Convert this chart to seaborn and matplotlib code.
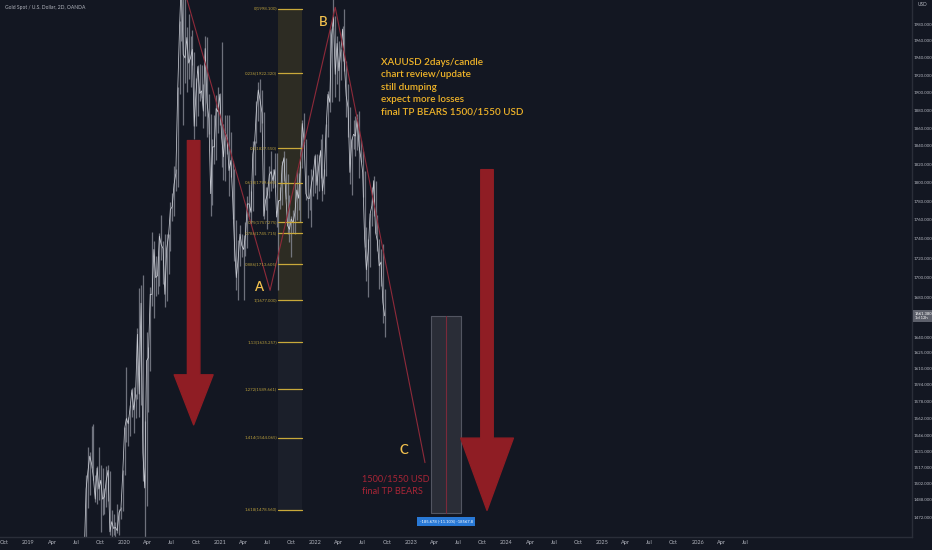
import pandas as pd
import numpy as np
import matplotlib
matplotlib.use('Agg')
import matplotlib.pyplot as plt
import matplotlib.dates as mdates
import matplotlib.ticker as mticker
import matplotlib.transforms as mtrans
import seaborn as sns

# weekly candles XAUUSD, first week ending 2019-07-05 (earlier bars sit below the visible range)
close = [
    # 2019
    1400, 1415, 1426, 1419, 1440, 1497, 1513, 1527, 1520, 1507, 1488, 1516, 1497,
    1505, 1488, 1490, 1505, 1514, 1459, 1468, 1462, 1463, 1460, 1476, 1479, 1511,
    # 2020
    1552, 1562, 1557, 1572, 1589, 1570, 1584, 1643, 1585, 1674, 1530, 1498, 1617,
    1620, 1683, 1683, 1729, 1700, 1702, 1743, 1734, 1730, 1683, 1730, 1743, 1771,
    1774, 1798, 1810, 1902, 1975, 2035, 1944, 1940, 1964, 1934, 1940, 1950, 1862,
    1900, 1930, 1899, 1902, 1879, 1951, 1889, 1871, 1788, 1839, 1839, 1882, 1878,
    # 2021
    1898, 1849, 1828, 1855, 1848, 1813, 1824, 1784, 1734, 1700, 1719, 1745, 1733,
    1729, 1744, 1777, 1777, 1768, 1831, 1844, 1881, 1903, 1891, 1877, 1764, 1781,
    1787, 1808, 1812, 1802, 1814, 1763, 1780, 1781, 1818, 1827, 1787, 1754, 1750,
    1761, 1757, 1768, 1792, 1783, 1818, 1865, 1846, 1788, 1783, 1783, 1799, 1808, 1829,
    # 2022
    1797, 1818, 1835, 1791, 1808, 1859, 1898, 1889, 1966, 1988, 1921, 1957,
    1925, 1947, 1974, 1932, 1896, 1883, 1811, 1846, 1853, 1851, 1871, 1840, 1827,
    1811, 1742, 1708, 1727, 1766, 1775, 1802, 1747, 1738, 1712, 1716, 1675, 1661.38,
]
high = [
    1437, 1421, 1453, 1433, 1449, 1510, 1535, 1531, 1555, 1557, 1510, 1518, 1535,
    1519, 1516, 1498, 1518, 1519, 1513, 1478, 1475, 1468, 1484, 1479, 1481, 1514,
    1554, 1611, 1563, 1575, 1591, 1592, 1585, 1649, 1689, 1692, 1703, 1560, 1645,
    1631, 1690, 1747, 1738, 1722, 1722, 1746, 1765, 1738, 1745, 1745, 1745, 1779,
    1789, 1818, 1815, 1906, 1984, 2075, 2039, 2015, 1976, 1992, 1966, 1973, 1947,
    1917, 1932, 1933, 1932, 1910, 1966, 1965, 1898, 1876, 1848, 1875, 1897, 1906,
    1900, 1959, 1865, 1875, 1875, 1875, 1855, 1824, 1815, 1760, 1739, 1755, 1745,
    1744, 1758, 1785, 1798, 1791, 1845, 1846, 1890, 1912, 1916, 1903, 1878, 1795,
    1795, 1818, 1834, 1815, 1832, 1832, 1781, 1795, 1823, 1834, 1827, 1809, 1787,
    1764, 1771, 1800, 1814, 1810, 1818, 1869, 1877, 1848, 1808, 1793, 1815, 1814, 1831,
    1831, 1830, 1848, 1853, 1815, 1865, 1902, 1974, 1975, 2070, 1990, 1966,
    1960, 1950, 1978, 1998, 1936, 1910, 1884, 1849, 1869, 1874, 1876, 1879, 1847,
    1835, 1812, 1752, 1740, 1767, 1795, 1807, 1802, 1765, 1740, 1729, 1735, 1688,
]
low = [
    1381, 1382, 1401, 1412, 1400, 1437, 1480, 1492, 1516, 1505, 1485, 1484, 1487,
    1459, 1474, 1475, 1481, 1486, 1456, 1445, 1456, 1452, 1458, 1456, 1470, 1477,
    1510, 1540, 1536, 1546, 1563, 1548, 1562, 1580, 1563, 1575, 1504, 1451, 1482,
    1568, 1607, 1671, 1659, 1681, 1683, 1691, 1718, 1693, 1670, 1676, 1704, 1727,
    1759, 1764, 1791, 1795, 1898, 1960, 1863, 1911, 1901, 1916, 1906, 1932, 1848,
    1862, 1873, 1890, 1894, 1860, 1873, 1850, 1853, 1764, 1776, 1820, 1825, 1854,
    1863, 1817, 1803, 1802, 1831, 1785, 1806, 1761, 1717, 1687, 1677, 1712, 1721,
    1677, 1722, 1731, 1763, 1756, 1769, 1808, 1843, 1868, 1855, 1866, 1761, 1770,
    1750, 1783, 1791, 1794, 1795, 1753, 1687, 1772, 1776, 1802, 1782, 1745, 1737,
    1721, 1746, 1745, 1760, 1770, 1758, 1816, 1843, 1781, 1762, 1771, 1753, 1786, 1789,
    1782, 1791, 1805, 1780, 1788, 1807, 1850, 1878, 1889, 1978, 1895, 1910,
    1890, 1915, 1937, 1925, 1872, 1850, 1798, 1787, 1837, 1829, 1836, 1805, 1822,
    1784, 1732, 1697, 1680, 1711, 1754, 1764, 1745, 1727, 1688, 1691, 1654, 1640,
]

y_ticks = [1980, 1960, 1940, 1920, 1900, 1880, 1860, 1840, 1820, 1800, 1780, 1760,
           1740, 1720, 1700, 1680, 1640, 1625, 1610, 1594, 1578, 1562, 1546, 1531,
           1517, 1502, 1488, 1472]

fib_levels = [0, 0.236, 0.5, 0.618, 0.75, 0.786, 0.886, 1, 1.13, 1.272, 1.414, 1.618]
fib_top = 1998.1
fib_bottom = 1677.0

wave_dates = ['2020-08-10', '2021-07-12', '2022-03-18', '2023-02-24']
wave_prices = [2030, 1687, 2000, 1521]

last_price = 1661.38
target_price = 1475.70

BG = '#131722'
TXT = '#b2b5be'
GOLD = '#f2c14e'
ARROW = '#8f1d24'
NARROW = ['DejaVu Sans Condensed', 'Liberation Sans Narrow', 'Lato', 'DejaVu Sans']

df = pd.DataFrame({'date': pd.date_range('2019-07-05', periods=len(close), freq='W-FRI'),
                   'close': close, 'high': high, 'low': low})

sns.set_theme(style='dark', rc={'axes.facecolor': BG, 'figure.facecolor': BG,
                                'savefig.facecolor': BG})
plt.rcParams['font.family'] = ['DejaVu Sans']

fig = plt.figure(figsize=(9.32, 5.5), dpi=100)
ax = fig.add_axes([0, 13 / 550, 912 / 932, 537 / 550])

# candles as high-low bars + close line
ax.vlines(df['date'], df['low'], df['high'], color='#868994', lw=0.9, alpha=0.8)
sns.lineplot(data=df, x='date', y='close', ax=ax, color='#c9ccd4', lw=0.55)

# fib extension
f0 = pd.Timestamp('2021-08-13')
f1 = pd.Timestamp('2021-11-12')
fib_prices = [fib_top - lv * (fib_top - fib_bottom) for lv in fib_levels]
for i in range(len(fib_levels) - 1):
    upper = fib_levels[i + 1] <= 1
    ax.fill_between([f0, f1], fib_prices[i], fib_prices[i + 1],
                    color='#b59a2e' if upper else '#6a6d78', alpha=0.16 if upper else 0.1, lw=0)
for lv, p in zip(fib_levels, fib_prices):
    ax.plot([f0, f1], [p, p], color='#c9a93a', lw=0.9)
    ax.annotate('%g(%.3f)' % (lv, p), xy=(f0, p), xytext=(-1, 0), textcoords='offset points',
                ha='right', va='center', fontsize=3.2, color='#b39a3c', family=NARROW)

# wave lines
ax.plot(pd.to_datetime(wave_dates), wave_prices, color='#8e2a3a', lw=0.8)

# wave letters
for lab, d, p in [('A', '2021-05-28', 1690), ('B', '2022-02-01', 1982), ('C', '2022-12-07', 1533)]:
    ax.text(pd.Timestamp(d), p, lab, color=GOLD, fontsize=9.5, ha='center', va='center',
            family=NARROW, fontweight='semibold')

# big arrows
for d, tail, tip, hw, hl in [('2020-09-23', 1846, 1556, 28, 36), ('2023-10-19', 1814, 1478, 38, 52)]:
    ax.annotate('', xy=(pd.Timestamp(d), tip), xytext=(pd.Timestamp(d), tail),
                arrowprops=dict(arrowstyle='simple,head_length=%d,head_width=%d,tail_width=9' % (hl, hw),
                                color=ARROW, shrinkA=0, shrinkB=0, mutation_scale=1))

# projection box
r0 = pd.Timestamp('2023-03-19')
r1 = pd.Timestamp('2023-07-12')
rm = r0 + (r1 - r0) / 2
ax.fill_between([r0, r1], target_price, last_price, color='#2c2f39', alpha=0.95, lw=0.8,
                edgecolor='#555865')
ax.plot([rm, rm], [last_price, target_price], color='#7a2a3a', lw=0.8)
ax.annotate('-185.678 (-11.10%) -18567.8', xy=(rm, target_price), xytext=(0, -6),
            textcoords='offset points', ha='center', va='center', fontsize=3.0, color='white',
            family=NARROW,
            bbox=dict(boxstyle='square,pad=0.6', facecolor='#2979d6', edgecolor='none'))

# texts
ax.text(381 / 912, 1 - 58 / 537,
        'XAUUSD 2days/candle\nchart review/update\nstill dumping\nexpect more losses\nfinal TP BEARS 1500/1550 USD',
        transform=ax.transAxes, color='#f0b429', fontsize=7.1, va='top', ha='left', linespacing=1.48,
        family=NARROW, fontweight='semibold')
ax.text(362 / 912, 1 - 474 / 537, '1500/1550 USD\nfinal TP BEARS', transform=ax.transAxes,
        color='#a82536', fontsize=6.6, va='top', ha='left', linespacing=1.5,
        family=NARROW)
ax.text(5 / 912, 1 - 7 / 537, 'Gold Spot / U.S. Dollar, 2D, OANDA', transform=ax.transAxes,
        color=TXT, fontsize=3.6, va='center', ha='left', family=NARROW)

# axes
ax.set_yscale('log')
ax.set_ylim(1454.5, 2008.8)
ax.set_xlim(pd.Timestamp('2018-09-14'), pd.Timestamp('2028-03-30'))
ax.yaxis.tick_right()
ax.yaxis.set_major_locator(mticker.FixedLocator(y_ticks))
ax.yaxis.set_major_formatter(mticker.FuncFormatter(lambda v, pos: '%.3f' % v))
ax.yaxis.set_minor_locator(mticker.NullLocator())
ax.set_xlabel('')
ax.set_ylabel('')

qdates = pd.date_range('2018-10-01', '2026-07-01', freq='QS')
ax.set_xticks(qdates)
ax.set_xticklabels([str(d.year) if d.month == 1 else d.strftime('%b') for d in qdates])
ax.tick_params(axis='x', length=0, pad=2.5, labelsize=4.0, labelcolor=TXT)
ax.tick_params(axis='y', length=0, pad=1.5, labelsize=3.2, labelcolor=TXT)
for t in ax.get_xticklabels() + ax.get_yticklabels():
    t.set_family(NARROW)
ax.grid(False)
for s in ['top', 'left']:
    ax.spines[s].set_visible(False)
for s in ['right', 'bottom']:
    ax.spines[s].set_color('#2a2e39')
    ax.spines[s].set_linewidth(1)

tr = mtrans.blended_transform_factory(ax.transAxes, ax.transData)
ax.text(1.003, last_price, '1661.380\n1d 12h', transform=tr, fontsize=3.0, color='white',
        va='center', ha='left', family=NARROW,
        bbox=dict(boxstyle='square,pad=0.35', facecolor='#5d606b', edgecolor='none'))
ax.text(1.006, 1 - 5 / 537, 'USD', transform=ax.transAxes, fontsize=3.4, color=TXT,
        va='center', ha='left', clip_on=False, family=NARROW)

fig.savefig('out.png', dpi=100)
